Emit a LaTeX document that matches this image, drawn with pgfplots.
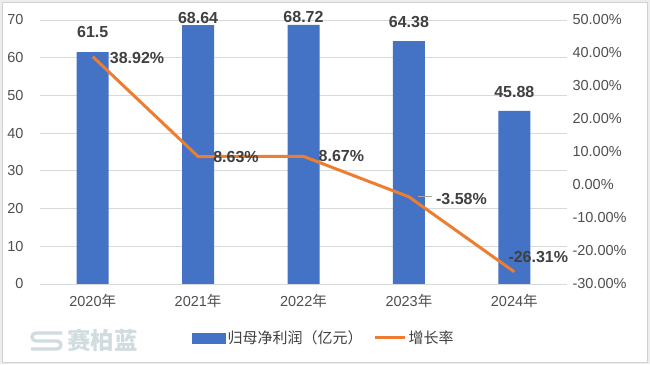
\documentclass[border=0pt]{standalone}
\usepackage{fontspec}
\setmainfont{Liberation Sans}
\newfontfamily\cjk{Noto Sans CJK SC}
\usepackage{pgfplots}
\pgfplotsset{compat=1.18}
\definecolor{barblue}{HTML}{4472C4}
\definecolor{lineorange}{HTML}{ED7D31}
\definecolor{ticktext}{HTML}{4F4F4F}
\definecolor{labeltext}{HTML}{404040}
\definecolor{gridgray}{HTML}{D9D9D9}
\definecolor{wm}{HTML}{D0DCE0}
\begin{document}
\begin{tikzpicture}[x=1pt,y=1pt]
\useasboundingbox (0,0) rectangle (650,364);
\fill[black!7] (0,0) rectangle (650,364);
\draw[black!18,fill=white] (2.5,2) rectangle (647.5,362);
% watermark
\draw[wm, line width=3.4pt, rounded corners=4pt] (62,31) -- (32,31) -- (32,23) -- (61,23) -- (61,15) -- (31,15);
\node[anchor=west, inner sep=0, text=wm] at (67,24) {\cjk\bfseries\fontsize{23.5}{24}\selectfont 赛柏蓝};

\begin{axis}[
  at={(40pt,80pt)}, anchor=south west,
  scale only axis, width=527pt, height=264pt,
  xmin=-0.5, xmax=4.5, ymin=0, ymax=70,
  xtick={0,1,2,3,4},
  xticklabels={{2020\cjk 年},{2021\cjk 年},{2022\cjk 年},{2023\cjk 年},{2024\cjk 年}},
  ytick={0,10,...,70},
  ymajorgrids, grid style={gridgray, line width=0.8pt},
  axis line style={draw=none},
  major tick length=0pt,
  tick label style={font=\fontsize{14.5}{16}\selectfont, text=ticktext},
  yticklabel style={/pgf/number format/assume math mode=true, xshift=-13pt},
  xticklabel style={yshift=-7pt},
  clip=false,
]
\addplot[ybar, bar width=32pt, fill=barblue, draw=none] coordinates {(0,61.5) (1,68.64) (2,68.72) (3,64.38) (4,45.88)};
\begin{scope}[every node/.style={anchor=south, inner sep=0pt, text=labeltext, font=\bfseries\fontsize{16}{16}\selectfont}]
\node at (axis cs:0,61.5) [yshift=14pt] {61.5};
\node at (axis cs:1,68.64) [yshift=1.5pt] {68.64};
\node at (axis cs:2,68.72) [yshift=1.5pt] {68.72};
\node at (axis cs:3,64.38) [yshift=13pt] {64.38};
\node at (axis cs:4,45.88) [yshift=13pt] {45.88};
\end{scope}
\end{axis}

\begin{axis}[
  at={(40pt,80pt)}, anchor=south west,
  scale only axis, width=527pt, height=264pt,
  xmin=-0.5, xmax=4.5, ymin=-30, ymax=50,
  axis x line=none,
  axis y line*=right,
  axis line style={draw=none},
  major tick length=0pt,
  ytick={-30,-20,...,50},
  yticklabels={-30.00\%,-20.00\%,-10.00\%,0.00\%,10.00\%,20.00\%,30.00\%,40.00\%,50.00\%},
  tick label style={font=\fontsize{14.5}{16}\selectfont, text=ticktext},
  yticklabel style={anchor=west, xshift=2pt},
  clip=false,
  legend columns=2,
  legend style={draw=none, fill=none, at={(axis description cs:0.2884,-0.2045)}, anchor=west,
    inner sep=0pt, font=\cjk\fontsize{15}{16}\selectfont, text=labeltext,
    /tikz/every even column/.append style={column sep=9pt}},
]
\addlegendimage{legend image code/.code={\fill[barblue] (0pt,-5pt) rectangle (33pt,5pt);}}
\addlegendentry{归母净利润（亿元）}
\addplot[lineorange, line width=3pt, line join=round, mark=none,
  legend image code/.code={\draw[lineorange, line width=3pt] (0pt,0pt) -- (30pt,0pt);}]
  coordinates {(0,38.92) (1,8.63) (2,8.67) (3,-3.58) (4,-26.31)};
\addlegendentry{增长率}
\draw[black!35, line width=0.7pt] ([xshift=9pt]axis cs:3,-3.58) -- ([xshift=23pt]axis cs:3,-3.58);
\begin{scope}[every node/.style={anchor=west, inner sep=0pt, text=labeltext, font=\bfseries\fontsize{16}{16}\selectfont}]
\node at (axis cs:0,38.92) [xshift=17pt, yshift=-1.5pt] {38.92\%};
\node at (axis cs:1,8.63) [xshift=15pt] {8.63\%};
\node at (axis cs:2,8.67) [xshift=15pt] {8.67\%};
\node at (axis cs:3,-3.58) [xshift=27pt, yshift=-2pt] {-3.58\%};
\node at (axis cs:4,-26.31) [xshift=-6pt, yshift=15pt] {-26.31\%};
\end{scope}
\end{axis}
\end{tikzpicture}
\end{document}
